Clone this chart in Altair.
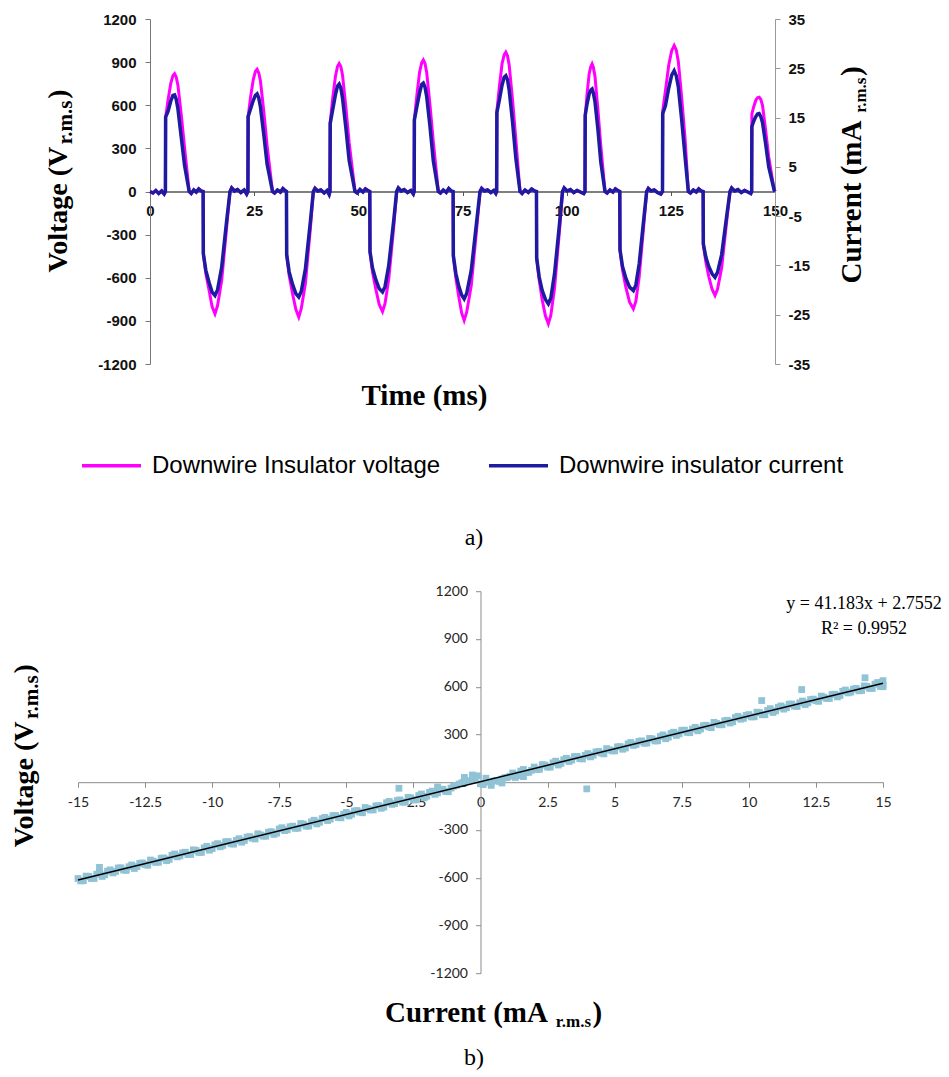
import altair as alt
import pandas as pd

# ---------------- panel a) : waveforms ----------------
# one line per segment (zero stretch, positive half-wave, zero stretch, negative half-wave ...)
TIME_MS = [
    0, 0.7, 1.4, 2.1, 2.8, 3.4, 3.7,
    3.75, 4.35, 5.0, 5.5, 5.9, 6.3, 6.7, 7.5, 8.3, 9.4,
    9.9, 10.5, 11.1, 11.7, 12.3, 12.75,
    12.8, 13.4, 14.2, 14.9, 15.6, 16.2, 17.2, 18.4, 19.2,
    19.6, 20.3, 21.0, 21.8, 22.6, 23.2, 23.5,
    23.55, 24.15, 24.8, 25.3, 25.7, 26.1, 26.5, 27.3, 28.1, 29.4,
    29.9, 30.6, 31.3, 31.9, 32.4, 32.75,
    32.8, 33.4, 34.2, 35.0, 35.7, 36.3, 37.3, 38.5, 39.2,
    39.6, 40.3, 41.0, 41.8, 42.5, 43.0, 43.2,
    43.25, 43.85, 44.5, 45.0, 45.4, 45.8, 46.2, 47.0, 47.8, 49.2,
    49.7, 50.4, 51.1, 51.7, 52.3, 52.75,
    52.8, 53.4, 54.2, 55.0, 55.8, 56.4, 57.3, 58.5, 59.2,
    59.6, 60.3, 61.0, 61.8, 62.6, 63.2, 63.4,
    63.45, 64.05, 64.7, 65.2, 65.6, 66.0, 66.4, 67.2, 68.0, 69.2,
    69.7, 70.4, 71.1, 71.7, 72.3, 72.75,
    72.8, 73.4, 74.1, 74.8, 75.4, 76.0, 77.1, 78.4, 79.2,
    79.6, 80.3, 81.0, 81.8, 82.5, 83.0, 83.2,
    83.25, 83.85, 84.5, 85.0, 85.4, 85.8, 86.2, 87.0, 87.8, 88.8,
    89.3, 90.0, 90.8, 91.6, 92.3, 92.75,
    92.8, 93.4, 94.1, 94.9, 95.6, 96.2, 97.1, 98.3, 99.0,
    99.4, 100.1, 100.9, 101.7, 102.5, 103.3, 104.1, 104.4,
    104.45, 104.9, 105.4, 105.8, 106.1, 106.4, 106.8, 107.5, 108.2, 109.2,
    109.7, 110.4, 111.1, 111.7, 112.3, 112.75,
    112.8, 113.4, 114.2, 115.1, 116.0, 116.6, 117.4, 118.5, 119.2,
    119.6, 120.3, 121.0, 121.8, 122.6, 123.0,
    123.05, 123.7, 124.5, 125.2, 125.8, 126.3, 126.8, 127.6, 128.4, 129.2,
    129.7, 130.4, 131.1, 131.7, 132.3, 132.75,
    132.8, 133.4, 134.1, 134.9, 135.6, 136.2, 137.2, 138.4, 139.2,
    139.6, 140.3, 141.1, 141.9, 142.7, 143.5, 144.2, 144.4,
    144.45, 144.9, 145.4, 145.8, 146.2, 146.6, 147.0, 147.7, 148.5, 149.8, 150,
]

VOLTAGE_V = [
    0, -12, 8, -15, 5, -18, 0,
    515, 640, 755, 805, 819, 795, 740, 535, 305, 0,
    -15, 12, -5, 20, 5, 0,
    -430, -570, -690, -800, -851, -795, -620, -248, 0,
    28, 5, 15, -8, 10, -20, 0,
    520, 660, 780, 835, 850, 825, 770, 560, 320, 0,
    -12, 10, -5, 22, 8, 0,
    -440, -585, -710, -820, -874, -815, -640, -255, 0,
    25, 3, 12, -10, 6, -22, 0,
    480, 650, 800, 870, 890, 870, 810, 590, 340, 0,
    -10, 14, -4, 20, 6, 0,
    -420, -560, -680, -785, -835, -780, -610, -245, 0,
    26, 4, 14, -6, 8, -18, 0,
    500, 670, 830, 895, 915, 890, 830, 600, 345, 0,
    -12, 12, -6, 22, 5, 0,
    -450, -600, -730, -845, -897, -840, -655, -260, 0,
    24, 3, 12, -8, 6, -15, 0,
    560, 730, 890, 950, 969, 945, 880, 640, 365, 0,
    -14, 10, -6, 18, 4, 0,
    -460, -615, -750, -865, -920, -860, -670, -265, 0,
    26, 4, 14, -7, 9, -4, -16, 0,
    520, 680, 820, 870, 888, 865, 800, 570, 315, 0,
    -12, 12, -5, 20, 6, 0,
    -410, -545, -665, -770, -816, -765, -595, -235, 0,
    24, 3, 12, -8, -18, 0,
    560, 700, 880, 980, 1016, 985, 905, 655, 375, 0,
    -12, 10, -4, 20, 5, 0,
    -370, -490, -590, -680, -723, -680, -530, -210, 0,
    25, 4, 14, -6, 8, -5, -14, 0,
    540, 590, 635, 652, 656, 640, 600, 440, 240, 10, 0,
]

CURRENT_MA = [
    0, -0.3, 0.2, -0.4, 0.1, -0.5, 0,
    15.1, 16.3, 18.4, 19.5, 19.6, 18.7, 16.8, 11.0, 5.3, 0,
    -0.4, 0.3, -0.1, 0.5, 0.1, 0,
    -12.6, -16.0, -18.5, -20.4, -21.1, -20.0, -15.4, -5.9, 0,
    0.7, 0.1, 0.4, -0.2, 0.3, -0.5, 0,
    15.2, 16.8, 18.5, 19.5, 19.8, 19.0, 17.2, 11.6, 5.6, 0,
    -0.3, 0.3, -0.1, 0.6, 0.2, 0,
    -12.8, -16.3, -18.8, -20.7, -21.4, -20.3, -15.7, -6.0, 0,
    0.6, 0.1, 0.3, -0.3, 0.2, -0.6, 0,
    13.8, 16.6, 19.6, 21.4, 21.8, 21.0, 19.0, 13.0, 6.3, 0,
    -0.3, 0.4, -0.1, 0.5, 0.2, 0,
    -12.2, -15.5, -17.9, -19.7, -20.4, -19.3, -15.0, -5.8, 0,
    0.7, 0.1, 0.4, -0.2, 0.2, -0.5, 0,
    14.5, 17.2, 20.0, 21.7, 22.0, 21.2, 19.3, 13.2, 6.2, 0,
    -0.3, 0.3, -0.2, 0.6, 0.1, 0,
    -13.0, -16.6, -19.2, -21.0, -21.8, -20.7, -16.0, -6.1, 0,
    0.6, 0.1, 0.3, -0.2, 0.2, -0.4, 0,
    16.0, 18.6, 21.6, 23.2, 23.5, 22.7, 20.6, 14.2, 6.8, 0,
    -0.4, 0.3, -0.2, 0.5, 0.1, 0,
    -13.5, -17.3, -20.0, -21.9, -22.8, -21.6, -16.6, -6.4, 0,
    0.7, 0.1, 0.4, -0.2, 0.2, -0.1, -0.4, 0,
    15.5, 17.8, 19.8, 20.6, 20.8, 20.0, 18.2, 12.6, 5.9, 0,
    -0.3, 0.3, -0.1, 0.5, 0.2, 0,
    -11.8, -15.2, -17.6, -19.4, -20.1, -19.0, -14.7, -5.6, 0,
    0.6, 0.1, 0.3, -0.2, -0.5, 0,
    15.8, 17.4, 21.0, 23.6, 24.5, 23.5, 21.2, 14.6, 7.2, 0,
    -0.3, 0.3, -0.1, 0.5, 0.1, 0,
    -10.6, -13.3, -15.2, -16.7, -17.4, -16.4, -12.8, -5.0, 0,
    0.7, 0.1, 0.4, -0.2, 0.2, -0.1, -0.4, 0,
    13.2, 14.3, 15.2, 15.7, 15.8, 15.2, 14.0, 10.0, 5.0, 0.3, 0,
]
assert len(TIME_MS) == len(VOLTAGE_V) == len(CURRENT_MA)

SERIES = ["Downwire Insulator voltage", "Downwire insulator current"]
SERIES_COLORS = ["#ff00ff", "#1d1b9f"]
TIME_TICKS = [0, 25, 50, 75, 100, 125, 150]
VOLT_TICKS = [-1200, -900, -600, -300, 0, 300, 600, 900, 1200]
CURR_TICKS = [-35, -25, -15, -5, 5, 15, 25, 35]

# ---------------- panel b) : V-I scatter ----------------
SCATTER_CURRENT = [
    -15.0, -14.8, -14.6, -14.4, -14.2,
    -14.0, -13.8, -13.6, -13.4, -13.2,
    -13.0, -12.8, -12.6, -12.4, -12.2,
    -12.0, -11.8, -11.6, -11.4, -11.2,
    -11.0, -10.8, -10.6, -10.4, -10.2,
    -10.0, -9.8, -9.6, -9.4, -9.2,
    -9.0, -8.8, -8.6, -8.4, -8.2,
    -8.0, -7.8, -7.6, -7.4, -7.2,
    -7.0, -6.8, -6.6, -6.4, -6.2,
    -6.0, -5.8, -5.6, -5.4, -5.2,
    -5.0, -4.8, -4.6, -4.4, -4.2,
    -4.0, -3.8, -3.6, -3.4, -3.2,
    -3.0, -2.8, -2.6, -2.4, -2.2,
    -2.0, -1.8, -1.6, -1.4, -1.2,
    -1.0, -0.8, -0.6, -0.4, -0.2,
    0.0, 0.2, 0.4, 0.6, 0.8,
    1.0, 1.2, 1.4, 1.6, 1.8,
    2.0, 2.2, 2.4, 2.6, 2.8,
    3.0, 3.2, 3.4, 3.6, 3.8,
    4.0, 4.2, 4.4, 4.6, 4.8,
    5.0, 5.2, 5.4, 5.6, 5.8,
    6.0, 6.2, 6.4, 6.6, 6.8,
    7.0, 7.2, 7.4, 7.6, 7.8,
    8.0, 8.2, 8.4, 8.6, 8.8,
    9.0, 9.2, 9.4, 9.6, 9.8,
    10.0, 10.2, 10.4, 10.6, 10.8,
    11.0, 11.2, 11.4, 11.6, 11.8,
    12.0, 12.2, 12.4, 12.6, 12.8,
    13.0, 13.2, 13.4, 13.6, 13.8,
    14.0, 14.2, 14.4, 14.6, 14.8,
    15.0,
    -3.04, 3.96, 10.48, 11.97, 14.33, 15.0, 15.0, 14.9,
    -0.6, -0.3, 0.4, 0.8, 1.3, 1.6, -14.2, -1.6,
]
SCATTER_VOLTAGE = [
    -605, -619, -592, -605, -568,
    -582, -551, -561, -538, -554,
    -520, -530, -507, -522, -496,
    -503, -476, -485, -451, -463,
    -440, -454, -428, -441, -403,
    -417, -386, -397, -373, -389,
    -355, -366, -342, -357, -331,
    -339, -311, -320, -286, -299,
    -276, -289, -263, -276, -239,
    -252, -221, -232, -209, -224,
    -190, -201, -178, -192, -166,
    -174, -147, -156, -121, -134,
    -111, -125, -98, -111, -74,
    -88, -56, -67, -44, -60,
    -25, -12, 0, 10, 25,
    -10, 25, 0, 12, 20,
    30, 58, 42, 80, 62,
    95, 81, 108, 95, 132,
    118, 150, 139, 162, 146,
    180, 170, 193, 178, 204,
    197, 224, 215, 249, 237,
    260, 246, 272, 260, 297,
    283, 314, 304, 327, 311,
    345, 334, 358, 343, 369,
    361, 389, 380, 414, 401,
    425, 411, 437, 424, 462,
    448, 479, 468, 491, 476,
    510, 499, 522, 508, 534,
    526, 553, 545, 579, 566,
    589, 576, 602, 589, 626,
    612,
    -38, -42, 513, 582, 656, 638, 600, 625,
    30, 45, -20, -5, 30, 35, -535, -30,
]
# second pass of samples lying between the ones above
SCATTER2_CURRENT = [
    -14.9, -14.7, -14.5, -14.3, -14.1,
    -13.9, -13.7, -13.5, -13.3, -13.1,
    -12.9, -12.7, -12.5, -12.3, -12.1,
    -11.9, -11.7, -11.5, -11.3, -11.1,
    -10.9, -10.7, -10.5, -10.3, -10.1,
    -9.9, -9.7, -9.5, -9.3, -9.1,
    -8.9, -8.7, -8.5, -8.3, -8.1,
    -7.9, -7.7, -7.5, -7.3, -7.1,
    -6.9, -6.7, -6.5, -6.3, -6.1,
    -5.9, -5.7, -5.5, -5.3, -5.1,
    -4.9, -4.7, -4.5, -4.3, -4.1,
    -3.9, -3.7, -3.5, -3.3, -3.1,
    -2.9, -2.7, -2.5, -2.3, -2.1,
    -1.9, -1.7, -1.5, -1.3, -1.1,
    -0.9, -0.7, -0.5, -0.3, -0.1,
    0.1, 0.3, 0.5, 0.7, 0.9,
    1.1, 1.3, 1.5, 1.7, 1.9,
    2.1, 2.3, 2.5, 2.7, 2.9,
    3.1, 3.3, 3.5, 3.7, 3.9,
    4.1, 4.3, 4.5, 4.7, 4.9,
    5.1, 5.3, 5.5, 5.7, 5.9,
    6.1, 6.3, 6.5, 6.7, 6.9,
    7.1, 7.3, 7.5, 7.7, 7.9,
    8.1, 8.3, 8.5, 8.7, 8.9,
    9.1, 9.3, 9.5, 9.7, 9.9,
    10.1, 10.3, 10.5, 10.7, 10.9,
    11.1, 11.3, 11.5, 11.7, 11.9,
    12.1, 12.3, 12.5, 12.7, 12.9,
    13.1, 13.3, 13.5, 13.7, 13.9,
    14.1, 14.3, 14.5, 14.7, 14.9,
]
SCATTER2_VOLTAGE = [
    -620, -590, -605, -578, -592,
    -559, -570, -539, -552, -531,
    -542, -510, -517, -489, -504,
    -478, -493, -459, -469, -444,
    -455, -425, -441, -413, -427,
    -394, -406, -374, -387, -366,
    -377, -345, -352, -324, -339,
    -314, -328, -294, -304, -280,
    -290, -260, -276, -249, -262,
    -229, -241, -210, -222, -201,
    -212, -181, -188, -159, -174,
    -149, -164, -129, -139, -115,
    -126, -95, -111, -84, -98,
    -64, -76, -45, -58, -37,
    -20, -5, 5, 20, 40,
    -15, 0, 8, 5, 28,
    38, 48, 70, 60, 75,
    80, 110, 95, 122, 108,
    141, 130, 161, 148, 169,
    159, 190, 183, 211, 197,
    222, 207, 241, 231, 256,
    245, 275, 259, 287, 273,
    306, 294, 326, 313, 334,
    323, 355, 348, 376, 361,
    386, 372, 406, 396, 420,
    410, 440, 424, 451, 438,
    471, 459, 490, 478, 499,
    488, 519, 512, 541, 526,
    551, 536, 571, 561, 585,
    574, 605, 589, 616, 602,
]
assert len(SCATTER_CURRENT) == len(SCATTER_VOLTAGE)
assert len(SCATTER2_CURRENT) == len(SCATTER2_VOLTAGE)
SCATTER_X_TICKS = [-15, -12.5, -10, -7.5, -5, -2.5, 0, 2.5, 5, 7.5, 10, 12.5, 15]
SCATTER_COLOR = "#8fc3d5"

# ---------------- helpers ----------------
ONE = pd.DataFrame({"k": [0]})
SERIF = "Liberation Serif"
SANS = "Liberation Sans"
LBL = "'' + datum.value"


def txt(text, x, y, size, weight="normal", angle=None, align="left",
        baseline="alphabetic", font=SERIF):
    kw = dict(text=text, font=font, fontSize=size, fontWeight=weight,
              align=align, baseline=baseline, color="black")
    if angle is not None:
        kw["angle"] = angle
    return alt.Chart(ONE).mark_text(**kw).encode(x=alt.value(x), y=alt.value(y))


# ---------------- panel a ----------------
W1, H1 = 697, 345
dv = pd.DataFrame({"t": TIME_MS, "v": VOLTAGE_V, "series": SERIES[0]})
di = pd.DataFrame({"t": TIME_MS, "i": CURRENT_MA, "series": SERIES[1]})

x_top = alt.X(
    "t:Q",
    scale=alt.Scale(domain=[0, 150], range=[72, W1], nice=False, zero=False),
    axis=alt.Axis(orient="bottom", offset=-H1 / 2, values=TIME_TICKS, title=None,
                  grid=False, labelExpr=LBL, labelFlush=False, labelOverlap=False,
                  domainColor="#555555", domainWidth=1.5, tickColor="#555555",
                  tickSize=4, labelPadding=8, labelFont=SANS, labelFontSize=15,
                  labelFontWeight="bold", labelColor="#111111"),
)

color = alt.Color(
    "series:N",
    scale=alt.Scale(domain=SERIES, range=SERIES_COLORS),
    legend=alt.Legend(title=None, orient="none", legendX=2, legendY=415,
                      direction="horizontal", symbolType="stroke",
                      symbolSize=3481, symbolStrokeWidth=3.5, labelFont=SANS,
                      labelFontSize=24, labelColor="black", labelLimit=600,
                      labelOffset=9, columnPadding=41, padding=0),
)

vline = alt.Chart(dv).mark_line(strokeWidth=3).encode(
    x=x_top,
    y=alt.Y("v:Q", scale=alt.Scale(domain=[-1200, 1200], nice=False, zero=False),
            axis=alt.Axis(orient="left", offset=-72, values=VOLT_TICKS, title=None,
                          grid=False, labelExpr=LBL, labelOverlap=False,
                          labelFlush=False,
                          domainColor="#777777", tickColor="#777777", tickSize=5,
                          labelPadding=9, labelFont=SANS, labelFontSize=15,
                          labelFontWeight="bold", labelColor="#111111")),
    color=color,
)
iline = alt.Chart(di).mark_line(strokeWidth=3.5).encode(
    x=x_top,
    y=alt.Y("i:Q", scale=alt.Scale(domain=[-35, 35], nice=False, zero=False),
            axis=alt.Axis(orient="right", values=CURR_TICKS, title=None,
                          grid=False, labelExpr=LBL, labelOverlap=False,
                          labelFlush=False,
                          domainColor="#999999", tickColor="#999999", tickSize=5,
                          labelPadding=8, labelFont=SANS, labelFontSize=15,
                          labelFontWeight="bold", labelColor="#111111")),
    color=color,
)

# invisible frame spanning the whole page so the layout origin is fixed
frame = alt.Chart(ONE).mark_rect(opacity=0).encode(
    x=alt.value(-78), x2=alt.value(871), y=alt.value(-18.5), y2=alt.value(1058.5))

texts_top = [
    txt("Voltage (V", -11.3, 253.5, 28, weight="bold", angle=270),
    txt("r.m.s", -6, 125.2, 21, weight="bold", angle=270),
    txt(")", -11.3, 79.7, 28, weight="bold", angle=270),
    txt("Current (mA", 783, 264.5, 29, weight="bold", angle=270),
    txt("r.m.s", 788, 93.8, 17, weight="bold", angle=270),
    txt(")", 783, 56.9, 29, weight="bold", angle=270),
    txt("Time (ms)", 346.5, 376.5, 29, weight="bold", align="center", baseline="middle"),
    txt("a)", 396, 518.5, 24, align="center", baseline="middle"),
]

top = alt.layer(frame, vline, iline, *texts_top).resolve_scale(
    y="independent").properties(width=W1, height=H1)

# ---------------- panel b ----------------
W2, H2 = 805, 382
ds = pd.DataFrame({"I": SCATTER_CURRENT + SCATTER2_CURRENT,
                   "V": SCATTER_VOLTAGE + SCATTER2_VOLTAGE})

xb = alt.X("I:Q", scale=alt.Scale(domain=[-15, 15], nice=False, zero=False),
           axis=alt.Axis(orient="bottom", offset=-H2 / 2, values=SCATTER_X_TICKS,
                         title=None, grid=False, labelExpr=LBL, labelFlush=False,
                         labelOverlap=False, domainColor="#8c8c8c",
                         tickColor="#8c8c8c", tickSize=5, labelPadding=8,
                         labelFont="Lato", labelFontSize=14, labelColor="#262626"))
yb = alt.Y("V:Q", scale=alt.Scale(domain=[-1200, 1200], nice=False, zero=False),
           axis=alt.Axis(orient="left", offset=-W2 / 2, values=VOLT_TICKS,
                         title=None, grid=False, labelExpr=LBL, labelFlush=False,
                         labelOverlap=False, domainColor="#8c8c8c",
                         tickColor="#8c8c8c", tickSize=5, labelPadding=8,
                         labelFont="Lato", labelFontSize=14, labelColor="#262626"))

scatter = alt.Chart(ds).mark_square(size=46, opacity=1, color=SCATTER_COLOR).encode(
    x=xb, y=yb)
trend = alt.Chart(ds).transform_regression("I", "V").mark_line(
    color="black", strokeWidth=1.5).encode(x="I:Q", y="V:Q")

texts_bot = [
    txt("Voltage (V", -44.7, 256, 28, weight="bold", angle=270),
    txt("r.m.s", -39.7, 127.7, 21, weight="bold", angle=270),
    txt(")", -44.7, 82.2, 28, weight="bold", angle=270),
    txt("Current (mA", 307, 430.3, 29, weight="bold"),
    txt("r.m.s", 477.8, 435.3, 17, weight="bold"),
    txt(")", 514.6, 430.3, 29, weight="bold"),
    txt("y = 41.183x + 2.7552", 786, 12.3, 18, align="center", baseline="middle"),
    txt("R\u00b2 = 0.9952", 786, 37.3, 18, align="center", baseline="middle"),
    txt("b)", 396, 466.3, 24, align="center", baseline="middle"),
]

bottom = alt.layer(scatter, trend, *texts_bot).properties(width=W2, height=H2)

chart = alt.vconcat(top, bottom, spacing=227.2, bounds="flush").properties(
    padding=0).configure_view(strokeWidth=0)

chart.save("out.html", embed_options={"renderer": "svg", "actions": False})
